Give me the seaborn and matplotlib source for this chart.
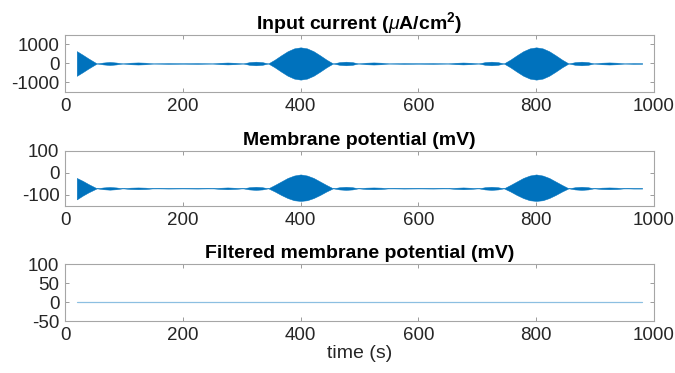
import numpy as np
import pandas as pd
import matplotlib
matplotlib.use("Agg")
import matplotlib.pyplot as plt
import seaborn as sns

# sample times (s) of the envelope
time = [20, 30, 40, 54, 65, 76, 87, 98, 111, 124, 137, 150, 175, 200, 225, 250,
        263, 276, 289, 302, 313, 324, 335, 345, 356, 367, 378, 389, 400, 411,
        422, 433, 444, 455, 466, 477, 488, 498, 511, 524, 537, 550, 575, 600,
        625, 650, 663, 676, 689, 702, 713, 724, 735, 745, 756, 767, 778, 789,
        800, 811, 822, 833, 844, 855, 866, 877, 888, 898, 911, 924, 937, 950,
        965, 980]

# input current envelope (uA/cm^2), upper half; lower half is its mirror
current_env = [650, 460, 260, 0, 50, 80, 50, 0, 40, 55, 40, 0, 20, 10, 20, 0,
               35, 50, 35, 0, 70, 95, 70, 0, 200, 430, 645, 795, 850, 795,
               645, 430, 200, 0, 70, 95, 70, 0, 40, 55, 40, 0, 20, 10,
               20, 0, 35, 50, 35, 0, 70, 95, 70, 0, 200, 430, 645, 795,
               850, 795, 645, 430, 200, 0, 70, 95, 70, 0, 40, 55, 40, 0,
               20, 15]

# membrane potential envelope (mV)
v_upper = [-23, -36, -51, -70, -66, -64, -66, -70, -67, -66, -67, -70, -69, -69.5, -69, -70,
           -67.5, -66, -67.5, -70, -65, -63, -65, -70, -55, -39, -23, -12, -7, -12,
           -23, -39, -55, -70, -65, -63, -65, -70, -67, -66, -67, -70, -69, -69.5,
           -69, -70, -67.5, -66, -67.5, -70, -65, -63, -65, -70, -55, -39, -23, -12,
           -7, -12, -23, -39, -55, -70, -65, -63, -65, -70, -67, -66, -67, -70,
           -69, -69]
v_lower = [-120, -103, -88, -70, -74, -76, -74, -70, -73, -74, -73, -70, -71, -70.5, -71, -70,
           -72.5, -74, -72.5, -70, -75, -77, -75, -70, -84, -100, -114, -124, -127, -124,
           -114, -100, -84, -70, -75, -77, -75, -70, -73, -74, -73, -70, -71, -70.5,
           -71, -70, -72.5, -74, -72.5, -70, -75, -77, -75, -70, -84, -100, -114, -124,
           -127, -124, -114, -100, -84, -70, -75, -77, -75, -70, -73, -74, -73, -70,
           -71, -71]

# filtered membrane potential (mV)
filt_time = [20, 400, 800, 980]
filt_v = [0, 0, 0, 0]

blue = "#0072BD"
txt = "#262626"

sns.set_theme(style="white")
plt.rcParams["font.family"] = ["Liberation Sans", "DejaVu Sans"]
plt.rcParams["mathtext.fontset"] = "custom"
plt.rcParams["mathtext.it"] = "Liberation Sans:italic"
plt.rcParams["mathtext.bf"] = "Liberation Sans:bold"
plt.rcParams["axes.unicode_minus"] = False

fig = plt.figure(figsize=(6.75, 3.73), dpi=100)
left, width = 0.0963, 0.8726
ax1 = fig.add_axes([left, 0.7534, width, 0.1528])
ax2 = fig.add_axes([left, 0.4477, width, 0.1480])
ax3 = fig.add_axes([left, 0.1394, width, 0.1528])

df = pd.DataFrame({"time": time, "cur": current_env, "vu": v_upper, "vl": v_lower})
df["cur_neg"] = -df["cur"]

ax1.fill_between(df["time"], df["cur_neg"], df["cur"], color=blue, linewidth=0.35)
ax2.fill_between(df["time"], df["vl"], df["vu"], color=blue, linewidth=0.35)
sns.lineplot(x=filt_time, y=filt_v, ax=ax3, color=blue, alpha=0.45, linewidth=0.9)

ax1.set_ylim(-1500, 1500)
ax1.set_yticks([-1000, 0, 1000])
ax2.set_ylim(-150, 100)
ax2.set_yticks([-100, 0, 100])
ax3.set_ylim(-50, 100)
ax3.set_yticks([-50, 0, 50, 100])

titles = [r"Input current ($\mu$A/cm$^{\mathbf{2}}$)", "Membrane potential (mV)",
          "Filtered membrane potential (mV)"]
for ax, title in zip([ax1, ax2, ax3], titles):
    ax.set_xlim(0, 1000)
    ax.set_xticks([0, 200, 400, 600, 800, 1000])
    ax.set_title(title, fontsize=14, fontweight="bold", color="black", pad=4)
    ax.tick_params(direction="in", length=3, width=0.6, color="#8c8c8c",
                   labelsize=13.5, labelcolor=txt, pad=4,
                   top=True, right=True, bottom=True, left=True)
    for sp in ax.spines.values():
        sp.set_color("#a6a6a6")
        sp.set_linewidth(0.8)
    ax.set_xlabel("")
    ax.set_ylabel("")

ax3.set_xlabel("time (s)", fontsize=14, color=txt, labelpad=1)

fig.savefig("out.png", dpi=100)
